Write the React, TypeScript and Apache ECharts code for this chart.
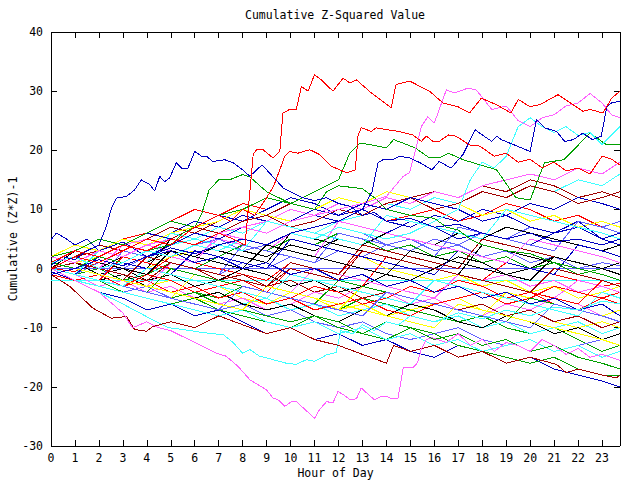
import React, { useEffect, useRef } from "react";
import * as echarts from "echarts";

const TITLE = "Cumulative Z-Squared Value";
const X_NAME = "Hour of Day";
const Y_NAME = "Cumulative (Z*Z)-1";
const HOURS = [0,1,2,3,4,5,6,7,8,9,10,11,12,13,14,15,16,17,18,19,20,21,22,23,23.75];
const PALETTE = ["#ff0000","#00a000","#0000c0","#6060ff","#ff60ff","#40ffff","#ffff00","#000000","#a00000"];

// hourly series (values at HOURS)
const G01 = [0,-0.5,1,0,-1,2,1,0,-1,-2,1,0,-1,3,2,1,0,-1,-2,1,0,-1,-2,-3,-2.5];
const G02 = [1,0,-1,-2,-3,-2,-4,-5,-3,-4,-5,-6,-7,-5,-6,-7,-8,-9,-8,-10,-11,-10,-12,-14,-13];
const G03 = [0,2,3,5,4,6,8,7,9,8,10,9,8,7,6,8,7,5,6,5,4,6,7,5,6];
const G04 = [-1,-2,-3,-4,-3,-5,-6,-7,-6,-8,-7,-9,-10,-9,-11,-12,-11,-10,-12,-13,-12,-14,-13,-12,-11];
const G05 = [2,1,3,2,4,3,2,5,4,3,6,5,4,3,2,1,0,-1,-2,-1,-3,-2,-4,-3,-4];
const G06 = [0,-1,-2,-3,-2,-4,-5,-4,-6,-5,-7,-6,-8,-7,-6,-8,-9,-8,-10,-9,-11,-10,-9,-11,-10];
const G07 = [1,0,-1,-2,-3,-2,-4,-3,-5,-6,-4,-5,-7,-6,-8,-7,-6,-5,-7,-8,-7,-9,-10,-9,-10];
const G08 = [0,1,0,2,1,3,2,4,3,2,4,3,5,4,6,5,4,6,5,7,6,5,4,3,4];
const G09 = [1,2,1,0,-1,1,0,-2,-1,-3,-2,-4,-3,-5,-4,-6,-5,-7,-6,-8,-7,-9,-8,-10,-9];
const G10 = [0,1,3,5,6,8,10,9,11,10,12,11,9,10,8,9,10,8,9,11,10,8,9,7,8];
const G11 = [0,-1,0,-2,-1,1,0,2,4,3,5,4,6,5,3,4,2,3,1,2,0,1,-1,0,-1];
const G12 = [-0.5,-2,-4,-5,-7,-6,-8,-7,-9,-11,-10,-12,-11,-13,-12,-14,-15,-13,-14,-16,-15,-17,-18,-19,-20];
const G13 = [0,1,2,1,3,2,4,5,3,4,6,5,7,6,4,5,3,4,2,3,1,2,0,1,0.5];
const G14 = [0,-1,-3,-2,-4,-3,-5,-6,-5,-7,-6,-4,-5,-3,-4,-6,-5,-7,-8,-6,-7,-5,-6,-8,-7];
const G15 = [1,0,2,1,3,4,5,7,6,8,7,6,8,9,11,10,12,11,13,12,14,13,15,14,16];
const G16 = [0,1,2,1,0,2,3,2,1,0,2,1,3,2,0,-1,-2,-1,-3,-2,-4,-3,-5,-4,-3];
const G17 = [0,-1,-2,-1,-3,-4,-5,-4,-6,-7,-6,-8,-9,-7,-8,-6,-7,-9,-10,-8,-9,-11,-10,-12,-11];
const G18 = [0,2,4,3,5,7,6,8,10,9,11,10,12,11,10,12,13,12,14,13,15,14,12,13,12];
const G19 = [-1,-2,-1,-3,-2,-4,-3,-5,-4,-6,-5,-7,-6,-5,-7,-8,-6,-5,-4,-6,-5,-3,-4,-5,-4];
const G20 = [0,-1,-2,-4,-5,-6,-5,-7,-8,-9,-10,-8,-9,-11,-12,-10,-11,-13,-14,-15,-16,-15,-17,-18,-18];
const G21 = [1,3,2,4,6,5,7,9,8,10,12,11,9,10,8,7,9,8,10,9,11,10,12,11,10];
const G22 = [0,-1,1,0,2,1,0,-1,1,0,2,1,3,2,4,3,5,4,6,5,7,6,8,7,8];
const G23 = [1,3,2,4,5,4,6,5,7,8,10,9,11,10,12,11,13,12,14,15,16,15,17,16,18];
const G24 = [0,-2,-3,-4,-5,-6,-7,-8,-7,-9,-10,-9,-11,-10,-12,-11,-13,-12,-14,-13,-12,-14,-13,-15,-14];
const G25 = [2,4,3,5,4,6,7,8,10,9,8,10,12,11,13,12,10,11,9,10,8,9,7,8,7];
const G26 = [0,1,-1,0,-2,-1,-3,-2,0,-1,-3,-2,-4,-3,-1,-2,0,2,1,-1,0,2,1,0,1];
const G27 = [0,2,3,2,4,5,7,6,8,9,7,8,10,9,11,12,10,11,13,12,14,13,11,12,13];
const G28 = [0,-1,-2,-3,-1,-2,-4,-3,-2,-4,-5,-3,-4,-6,-5,-3,-4,-2,-3,-5,-4,-6,-7,-5,-6];
const G29 = [0,-1,-2,-3,-4,-5,-4,-6,-7,-8,-9,-8,-10,-11,-9,-10,-12,-11,-13,-12,-14,-13,-15,-16,-17];
const G30 = [0,2,1,3,2,4,6,5,7,6,8,10,9,11,10,12,11,10,8,9,7,6,8,5,4];
const G31 = [0,-1,-2,3,2,1,0,-1,4,3,2,1,6,5,4,3,2,7,6,5,4,3,8,7,6];
const G32 = [1,0,-1,-2,-3,1,0,-1,-2,-3,-4,0,-1,-2,-3,-4,-5,-1,-2,-3,-4,-5,-2,-3,-4];
const G33 = [0,-1,3,2,1,6,5,4,3,8,7,6,5,4,9,8,7,6,5,10,9,8,7,6,5];
const G34 = [0,-1,-2,-3,-4,-5,-1,-2,-3,-4,-5,-6,-7,-3,-4,-5,-6,-7,-8,-4,-5,-6,-7,-8,-7];
const G35 = [0,3,2,1,0,5,4,3,2,1,6,5,4,3,2,1,0,-1,4,3,2,1,0,-1,-2];
const G36 = [1,0,-1,-2,2,1,0,-1,-2,-3,1,0,-1,4,3,2,1,0,5,4,3,2,1,0,-1];
const G37 = [0,-1,-2,2,1,0,-1,-2,-3,-4,0,-1,-2,-3,2,1,0,-1,-2,-3,-4,-5,-6,-2,-3];
const G38 = [0,-1,-2,-3,-4,0,-1,-2,-3,-4,-5,-6,-2,-3,-4,-5,-6,-7,-8,-9,-5,-6,-7,-8,-9];
const G39 = [0,-1,2,1,0,-1,3,2,1,0,5,4,3,2,1,0,-1,3,2,1,0,-1,4,3,2];
const G40 = [0,-1,-2,-3,-4,-5,-6,-7,-3,-4,-5,-6,-7,-8,-4,-5,-6,-7,-8,-9,-10,-6,-7,-8,-9];
const G41 = [2,1,0,4,3,2,1,6,5,4,3,2,8,7,6,5,4,3,2,1,5,4,3,2,1];
const G42 = [0,-1,-2,-3,0,-1,-2,-3,-4,-5,-1,-2,-3,-4,-5,-6,-2,-3,-4,-5,-6,-7,-8,-4,-5];
const G43 = [1,0,-1,-2,-3,-4,-5,-6,-7,-3,-4,-5,-6,-7,-8,-9,-10,-6,-7,-8,-9,-10,-11,-12,-13];
const G44 = [0,2,1,0,-1,3,2,1,0,4,3,2,1,0,-1,3,2,1,0,-1,-2,2,1,0,-1];
const G45 = [0,1,0,-1,-2,1,0,-1,-2,-3,0,-1,-2,3,2,1,0,-1,-2,-3,-4,0,-1,-2,-3];
const FLAT_ZERO = [0,0,0,0,0,0,0,0,0,0,0,0,0,0,0,0,0,0,0,0,0,0,0,0,0];
const FLAT_CYAN = [-2.1,-2.1,-2.1,-2.1,-2.1,-2.1,-2.1,-2.1,-2.1,-2.1,-2.1,-2.1,-2.1,-2.1,-2.1,-2.1,-2.1,-2.1,-2.1,-2.1,-2.1,-2.1,-2.1,-2.1,-2.1];

// traced series as [hour, value]
const RED_TOP = [[0,1],[1,3],[2,2],[3,4],[4,3],[5,5],[6,4],[7,6],[7.6,5],[8.1,4],[8.44,19.3],[8.58,20.1],[8.85,20.1],[9.27,18.7],[9.55,19.8],[9.68,26.3],[9.96,26.9],[10.24,26.9],[10.45,30.8],[10.73,30.0],[11.0,32.8],[11.28,31.9],[11.77,30.0],[12.19,32.2],[12.47,31.4],[12.75,31.9],[13.37,29.7],[14.2,27.2],[14.4,31.1],[14.97,31.7],[15.8,30.0],[16.36,28.0],[16.97,27.4],[17.47,26.3],[17.96,28.8],[18.6,27.7],[19.2,26.3],[19.5,28.6],[19.98,27.4],[20.4,27.7],[21.16,29.4],[22.2,26.6],[22.5,26.9],[23.04,26.3],[23.4,28.8],[23.75,30.0]];
const BLUE_TOP = [[0,0.5],[0.5,2],[1,1.5],[1.5,3],[2,4],[2.3,7],[2.52,10.2],[2.73,11.9],[3.15,12.2],[3.49,13.3],[3.77,15.0],[4.12,14.2],[4.33,13.1],[4.54,15.6],[4.74,14.7],[4.95,15.3],[5.23,17.9],[5.44,17.0],[5.72,17.0],[6.0,19.8],[6.28,19.0],[6.49,19.0],[6.76,18.1],[7.25,18.4],[7.6,17.9],[8.0,16.7],[8.3,15.6],[8.8,17.5],[9.0,16.7],[9.7,13.6],[10.5,12],[11,11.5],[11.5,12],[12,11],[12.5,10.5],[13,9],[13.5,9.5],[14,8],[15,8.5],[16,7],[17,7.5],[18,6],[19,5],[20,6],[21,4.5],[22,5],[23,4],[23.75,5]];
const BLUE_EARLY = [[0,4.9],[0.23,6],[0.57,5.2],[1,4],[1.5,5],[2,3],[3,4.5],[4,2],[5,3],[6,1],[7,2],[8,0],[9,1],[10,-1],[11,0],[12,-2],[13,-1],[14,-3],[15,-2],[16,-4],[17,-3],[18,-5],[19,-4],[20,-6],[21,-5],[22,-7],[23,-6],[23.75,-8]];
const MAGENTA_LOW = [[0,0],[1,-2],[2,-4],[3,-7.5],[3.4,-10],[4,-9],[4.5,-10],[5,-10.5],[5.5,-11.5],[6.07,-12.6],[6.9,-14.3],[7.3,-14.8],[7.8,-16.5],[8.3,-18.8],[8.5,-19.3],[8.99,-20.5],[9.27,-21.9],[9.48,-22.2],[9.76,-23.3],[10.03,-22.5],[10.24,-22.5],[11.0,-25.3],[11.2,-23.9],[11.5,-22.5],[11.77,-22.7],[11.98,-20.8],[12.19,-21.3],[12.5,-22.2],[12.75,-22.0],[12.95,-20.2],[13.5,-22.2],[13.8,-21.6],[14.0,-21.6],[14.2,-22.0],[14.48,-22.0],[14.62,-18.8],[14.7,-16.8],[15.1,-16.8],[15.3,-15.9],[15.45,-13.7],[15.67,-12],[15.9,-11.7],[16.5,-12.5],[17,-11],[17.5,-13],[18,-12],[18.5,-14],[19,-12.5],[19.5,-13],[20,-14],[20.5,-12],[21,-13],[21.5,-14.5],[22,-13.5],[22.5,-15],[23,-14.5],[23.75,-15.5]];
const CYAN_LOW = [[0,0],[1,-2],[2,-4],[3,-6],[3.98,-8.1],[4.9,-10],[5.5,-10.3],[6.3,-10.8],[7.2,-11.2],[7.6,-12.5],[8.0,-14.3],[8.3,-13.7],[8.7,-14.8],[9.27,-15.4],[9.82,-16.0],[10.24,-16.2],[10.66,-15.4],[11.0,-15.7],[11.5,-14.6],[11.9,-14.2],[12.1,-10.5],[12.6,-11],[13,-9.5],[13.5,-10.5],[14,-9],[14.5,-9.5],[15,-8],[16,-9],[17,-7.5],[18,-8.5],[19,-7],[20,-8],[21,-6.5],[22,-7],[23,-5.5],[23.75,-6]];
const DARKRED_LOW = [[0,-1],[0.78,-3],[1.75,-6.7],[2.52,-8.4],[3.15,-8.1],[3.49,-10.3],[3.98,-10.6],[4.25,-9.8],[5,-9],[6,-10],[7,-8],[8,-9.5],[9,-11],[10,-10],[11,-12],[12,-13],[13,-14.5],[14,-16],[14.3,-13],[15,-14],[16,-13],[17,-15],[18,-14],[19,-16],[20,-15],[21.1,-16.2],[21.5,-17.6],[22,-17],[23,-18],[23.6,-18.5],[23.75,-18]];
const BLUE_RIGHT = [[0,-1],[1,0],[2,1.5],[3,0.5],[4,2],[5,3.5],[6,2.5],[7,4],[8,5],[9,4],[10,6],[11,7],[12,8],[13,10],[13.4,13],[13.65,17.9],[13.86,18.4],[14.27,18.4],[14.55,19],[14.97,18.7],[15.4,17.9],[15.9,16.7],[16.2,18.1],[16.7,17],[17.2,19.3],[17.3,20.1],[17.7,23.5],[18.0,22.6],[18.4,21.5],[18.6,22.4],[18.8,21.8],[20.0,19.8],[20.26,25.2],[20.6,23.8],[21.1,23.2],[21.44,21.5],[21.8,21.8],[22.2,22.9],[22.6,21.8],[22.97,22.4],[23.2,27.4],[23.4,28],[23.75,28.3]];
const PINK_RIGHT = [[0,2],[1,1],[2,3],[3,2],[4,4],[5,5],[6,4],[7,6],[8,7],[9,6],[10,8],[11,9],[12,10],[13,11],[14,12.2],[14.7,15.6],[14.97,16.2],[15.46,24],[15.73,25.7],[16.0,24.6],[16.5,30.2],[16.85,29.7],[17.4,30.5],[17.75,30.2],[18.4,26.9],[19,27.5],[19.5,25],[20,24],[20.5,25.5],[21,26],[21.5,27.5],[22,28],[22.5,29.6],[23,28],[23.4,26],[23.75,25.5]];
const CYAN_RIGHT = [[0,1],[1,2],[2,0],[3,1],[4,3],[5,2],[6,4],[7,3],[8,5],[9,4],[10,6],[11,5],[12,7],[13,6],[14,5],[15,6],[16,8],[17,10],[17.5,15],[18,18],[18.5,17],[19,19],[19.5,24],[20,25.5],[20.5,24],[21,23],[21.5,24],[22,22.5],[22.5,23],[23,21],[23.75,24]];
const GREEN_HIGH = [[0,2],[1,3],[2,5],[3,4],[4,6],[5,8],[6,7],[7,9],[8,10],[9,12],[10,11],[11,13],[12,15],[12.47,19.5],[12.9,21.2],[13.4,20.9],[14.0,20.4],[14.3,21.8],[14.7,21.2],[15.2,20.4],[15.8,18.7],[16.2,18.7],[16.6,19.5],[17.2,18.4],[18.6,16.7],[19.4,12],[20,11.6],[20.6,17.9],[21.4,18.4],[22.5,22.9],[23.2,20.9],[23.75,20.9]];
const RED_SECOND = [[0,0],[1,2],[2,1],[3,3],[4,5],[5,4],[6,7],[7,9],[7.5,8],[8,10],[8.5,9],[9,12],[9.3,14],[9.55,16.7],[9.76,19],[9.96,19.8],[10.3,19.5],[10.8,20.1],[11.2,19.3],[11.7,17.3],[12.05,16.7],[12.33,16.2],[12.7,16.7],[12.82,22.6],[12.95,23.8],[13.37,23.2],[13.58,23.8],[14,23.5],[14.48,23.2],[15.1,22.6],[15.46,21.5],[15.67,22.4],[15.94,21.5],[16.2,21.5],[16.6,22.6],[16.9,22.4],[17.47,20.9],[17.9,20.7],[18.5,19],[19,19.5],[19.5,18],[20,18.5],[20.5,17],[21,18],[21.5,16.5],[22,17],[22.5,16],[23,19],[23.4,18.5],[23.75,17.5]];
const GREEN_EARLY = [[0,1],[1,0],[2,2],[3,1],[4,3],[5,4],[5.5,6],[6,7],[6.3,9.4],[6.6,13.3],[7,15],[7.45,15],[8,15.9],[8.3,15.5],[9,13],[10,11],[11,10],[11.5,13],[12,14],[13,13.5],[13.5,12],[14,10],[15,9],[16,8.5],[16.5,7],[17,6.5],[17.5,5],[18,4],[19,3],[20,2.5],[21,1],[22,0],[23,-1],[23.75,-2]];

const HOURLY = [G01,G02,G03,G04,G05,G06,G07,G08,G09,G10,G11,G12,G13,G14,G15,G16,G17,G18,G19,G20,G21,G22,G23,G24,G25,G26,G27,G28,G29,G30,G31,G32,G33,G34,G35,G36,G37,G38,G39,G40,G41,G42,G43,G44,G45];
const TRACED: [number[][], string][] = [
  [GREEN_EARLY, "#00a000"], [BLUE_EARLY, "#0000c0"], [CYAN_LOW, "#40ffff"], [DARKRED_LOW, "#a00000"],
  [MAGENTA_LOW, "#ff60ff"], [GREEN_HIGH, "#00a000"], [CYAN_RIGHT, "#40ffff"], [PINK_RIGHT, "#ff60ff"],
  [BLUE_RIGHT, "#0000c0"], [RED_SECOND, "#ff0000"], [BLUE_TOP, "#0000c0"], [RED_TOP, "#ff0000"],
];

const FONT = "DejaVu Sans Mono";

export default function App() {
  const ref = useRef<HTMLDivElement>(null);
  useEffect(() => {
    if (!ref.current) return;
    const chart = echarts.init(ref.current, null, { renderer: "svg" });
    const mk = (vals: number[]) => vals.map((v, i) => [HOURS[i], v]);
    const line = (data: number[][], color: string) => ({
      type: "line", data, showSymbol: false, symbol: "none", silent: true,
      lineStyle: { color, width: 1 }, itemStyle: { color },
    });
    const series: any[] = [];
    series.push(line(mk(FLAT_ZERO), "#6060ff"));
    series.push(line(mk(FLAT_CYAN), "#40ffff"));
    HOURLY.forEach((vals, i) => series.push(line(mk(vals), PALETTE[i % PALETTE.length])));
    TRACED.forEach(([d, c]) => series.push(line(d, c)));

    const axisCommon = {
      axisLine: { show: true, onZero: false, lineStyle: { color: "#000", width: 1 } },
      axisTick: { show: true, inside: true, length: 6, lineStyle: { color: "#000", width: 1 } },
      splitLine: { show: false },
    };
    const labelStyle = { color: "#000", fontFamily: FONT, fontSize: 11.5 };
    chart.setOption({
      animation: false,
      backgroundColor: "#fff",
      title: {
        text: TITLE, left: 335, top: 9, padding: 0, textAlign: "center",
        textStyle: { fontFamily: FONT, fontSize: 11.5, fontWeight: "normal", color: "#000" },
      },
      grid: { left: 51, right: 20, top: 32, bottom: 34, containLabel: false, outerBoundsMode: "none" },
      xAxis: [
        {
          type: "value", min: 0, max: 23.75, interval: 1, position: "bottom", ...axisCommon,
          axisLabel: { ...labelStyle, margin: 6, formatter: (v: number) => (Number.isInteger(v) ? String(v) : "") },
          name: X_NAME, nameLocation: "middle", nameGap: 21, nameMoveOverlap: false, nameTextStyle: labelStyle,
        },
        {
          type: "value", min: 0, max: 23.75, interval: 1, position: "top", ...axisCommon,
          axisLabel: { show: false },
        },
      ],
      yAxis: [
        {
          type: "value", min: -30, max: 40, interval: 10, position: "left", ...axisCommon,
          axisLabel: { ...labelStyle, margin: 8 },
          name: Y_NAME, nameLocation: "middle", nameGap: 32, nameRotate: 90, nameMoveOverlap: false, nameTextStyle: labelStyle,
        },
        {
          type: "value", min: -30, max: 40, interval: 10, position: "right", ...axisCommon,
          axisLabel: { show: false },
        },
      ],
      series,
    });
    return () => chart.dispose();
  }, []);
  return <div ref={ref} style={{ position: "fixed", left: 0, top: 0, width: 640, height: 480, background: "#fff", shapeRendering: "crispEdges" } as any} />;
}
